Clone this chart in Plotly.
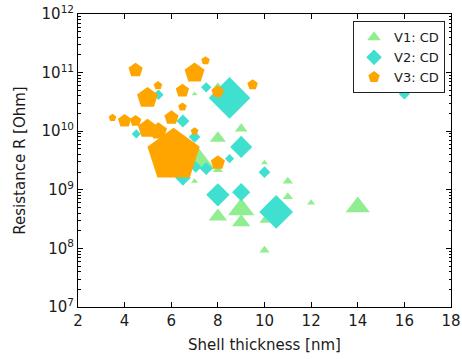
import plotly.graph_objects as go

# V1: CD (triangles)
v1_x = [14.0, 12.0, 11.0, 11.0, 10.0, 10.0, 10.0, 9.0, 9.0, 8.0, 8.0, 9.0, 7.0, 8.0, 7.0, 7.0, 8.0]
v1_y = [5.1e8, 6.0e8, 1.4e9, 7.6e8, 2.9e9, 3.0e8, 9.3e7, 4.6e8, 2.8e8, 3.5e8, 7.6e9, 1.1e10, 4.3e10, 5.6e10, 3.2e9, 1.4e9, 2.2e9]
v1_s = [21, 7, 9, 9, 6, 9, 9, 23, 16, 16, 14, 11, 5, 10, 35, 6, 9]

# V2: CD (diamonds)
v2_x = [16.0, 8.5, 7.5, 5.45, 6.5, 4.5, 7.0, 9.0, 8.5, 10.0, 8.0, 9.0, 10.5, 6.5, 7.05, 7.5]
v2_y = [4.3e10, 3.7e10, 5.6e10, 4.2e10, 1.5e10, 9.0e9, 8.0e9, 5.4e9, 3.4e9, 2.0e9, 8.2e8, 9.1e8, 4.2e8, 1.6e9, 2.45e9, 2.3e9]
v2_s = [8.5, 32, 8, 8, 10, 7, 9, 17, 7, 9, 18, 14, 26, 12, 9, 10]

# V3: CD (pentagons)
v3_x = [4.47, 5.43, 4.98, 7.0, 7.47, 6.48, 7.99, 9.49, 6.48, 6.01, 3.48, 4.0, 4.47, 4.98, 5.45, 7.0, 6.1, 8.0]
v3_y = [1.1e11, 6.0e10, 3.7e10, 9.8e10, 1.6e11, 4.9e10, 4.7e10, 6.2e10, 2.6e10, 1.7e10, 1.7e10, 1.5e10, 1.5e10, 1.1e10, 1.0e10, 1.0e10, 3.9e9, 2.9e9]
v3_s = [15, 9, 22, 21, 9, 14, 13, 11, 9, 15, 8, 14, 12, 20, 18, 8, 55, 15]

y_tickvals = [1e7, 1e8, 1e9, 1e10, 1e11, 1e12]
y_ticktext = ["10<sup>7</sup>", "10<sup>8</sup>", "10<sup>9</sup>", "10<sup>10</sup>", "10<sup>11</sup>", "10<sup>12</sup>"]
x_tickvals = [2, 4, 6, 8, 10, 12, 14, 16, 18]

fig = go.Figure()
fig.add_trace(go.Scatter(x=v1_x, y=v1_y, mode="markers", name="V1: CD",
                         marker=dict(symbol="triangle-up", size=v1_s, color="#90EE90", opacity=1, line=dict(width=0))))
fig.add_trace(go.Scatter(x=v2_x, y=v2_y, mode="markers", name="V2: CD",
                         marker=dict(symbol="diamond", size=v2_s, color="#40E0D0", opacity=1, line=dict(width=0))))
fig.add_trace(go.Scatter(x=v3_x, y=v3_y, mode="markers", name="V3: CD",
                         marker=dict(symbol="pentagon", size=v3_s, color="#FFA500", opacity=1, line=dict(width=0))))

font = "DejaVu Sans"
fig.update_layout(
    width=462, height=359,
    margin=dict(l=78, r=11, t=14, b=52),
    paper_bgcolor="white", plot_bgcolor="white",
    font=dict(family=font, size=15, color="#1a1a1a"),
    showlegend=True,
    legend=dict(x=0.984, y=0.975, xanchor="right", yanchor="top",
                bordercolor="#222", borderwidth=1, bgcolor="white",
                itemsizing="constant", font=dict(size=13), tracegroupgap=0),
    xaxis=dict(range=[2, 18], tickvals=x_tickvals, ticks="inside", ticklen=5,
               tickcolor="black", automargin=False,
               showline=True, linecolor="black", linewidth=1, mirror="allticks",
               showgrid=False, zeroline=False,
               title=dict(text="Shell thickness [nm]", font=dict(size=15), standoff=10)),
    yaxis=dict(type="log", range=[7, 12], tickvals=y_tickvals, ticktext=y_ticktext,
               ticks="inside", ticklen=5, tickcolor="black", automargin=False,
               showline=True, linecolor="black", linewidth=1, mirror="allticks",
               showgrid=False, zeroline=False,
               minor=dict(ticks="inside", ticklen=2.5, tickcolor="black", showgrid=False,
                          tickvals=[m * 10**e for e in range(7, 12) for m in range(2, 10)]),
               title=dict(text="Resistance R [Ohm]", font=dict(size=15), standoff=12)),
)

fig.write_html("out.html", config={"displayModeBar": False},
               post_script="document.body.style.margin='0';")
